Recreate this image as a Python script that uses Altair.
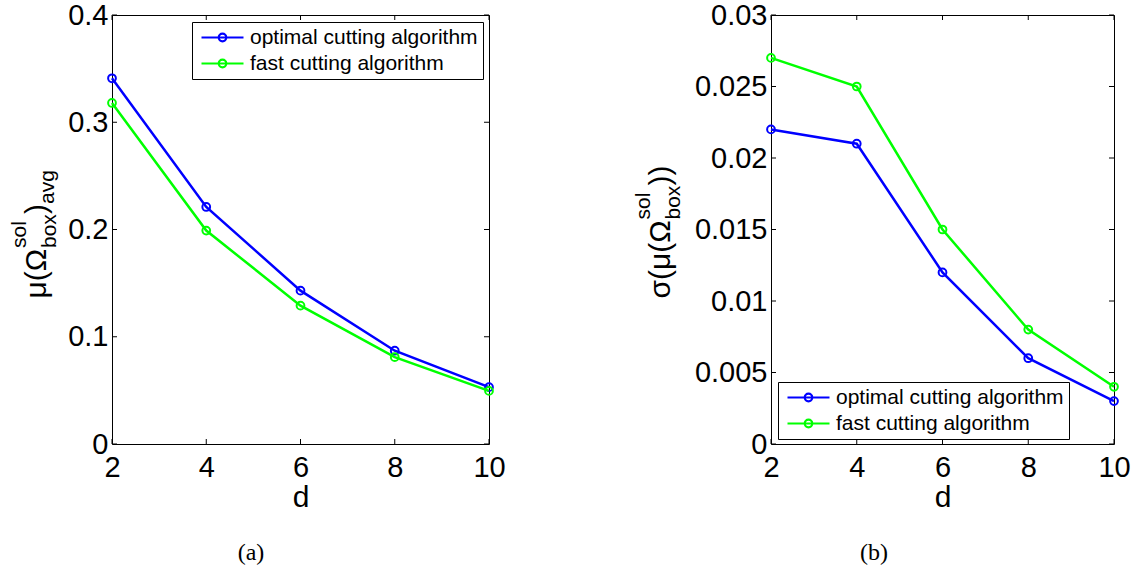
import altair as alt
import pandas as pd

# ---------------- data ----------------
d_values = [2, 4, 6, 8, 10]
series_names = ["optimal cutting algorithm", "fast cutting algorithm"]
series_colors = ["#0000ff", "#00ff00"]

mu_optimal = [0.341, 0.221, 0.143, 0.087, 0.053]
mu_fast = [0.318, 0.199, 0.129, 0.081, 0.0495]

sigma_optimal = [0.022, 0.021, 0.012, 0.006, 0.003]
sigma_fast = [0.027, 0.025, 0.015, 0.008, 0.004]

mu_ticks = [0, 0.1, 0.2, 0.3, 0.4]
sigma_ticks = [0, 0.005, 0.01, 0.015, 0.02, 0.025, 0.03]

FONT = "Liberation Sans"
SERIF = "Liberation Serif"
TICK_LEN = 5
H = 429

# legend symbol: a line with a small open circle in the middle.
# The circle is traced once in each direction so that its fill cancels out.
SYMBOL_PATH = ("M-1,0L1,0"
               "M0.18,0A0.18,0.18,0,1,1,-0.18,0A0.18,0.18,0,1,1,0.18,0Z"
               "M0.18,0A0.18,0.18,0,1,0,-0.18,0A0.18,0.18,0,1,0,0.18,0Z")


def make_panel(opt, fast, y_ticks, y_max, width, legend_xy, title_parts,
               caption, caption_x):
    n = len(d_values)
    df = pd.DataFrame({
        "d": d_values + d_values,
        "value": opt + fast,
        "series": [series_names[0]] * n + [series_names[1]] * n,
    })
    x_scale = alt.Scale(domain=[min(d_values), max(d_values)], nice=False, zero=False)
    y_scale = alt.Scale(domain=[0, y_max], nice=False, zero=True)
    x_axis = alt.Axis(values=d_values, title="d", format="d")
    y_axis = alt.Axis(values=y_ticks, format="~g", title=None)

    legend = alt.Legend(
        title=None, orient="none", legendX=legend_xy[0], legendY=legend_xy[1],
        symbolType=SYMBOL_PATH, symbolSize=1764, symbolStrokeWidth=2.2,
        symbolFillColor="white",
        symbolOffset=3, labelFont=FONT, labelFontSize=21, labelColor="black",
        labelOffset=5, labelLimit=500, padding=5, rowPadding=4,
        strokeColor="black", fillColor="white", clipHeight=21,
    )
    color = alt.Color("series:N",
                      scale=alt.Scale(domain=series_names, range=series_colors),
                      legend=legend)
    x_enc = alt.X("d:Q", scale=x_scale, axis=x_axis, title="d")
    y_enc = alt.Y("value:Q", scale=y_scale, axis=y_axis)

    layers = []
    for name in series_names:
        sub = alt.Chart(df).transform_filter(alt.datum.series == name)
        layers.append(sub.mark_line(strokeWidth=2.5).encode(
            x=x_enc, y=y_enc, color=color))
        layers.append(sub.mark_point(filled=False, size=60, strokeWidth=2,
                                     opacity=1).encode(
            x=x_enc, y=y_enc, color=color))

    # inward ticks on all four sides (MATLAB box style)
    xt = pd.DataFrame({"t": d_values})
    yt = pd.DataFrame({"t": y_ticks})
    xs = alt.X("t:Q", scale=x_scale, axis=x_axis, title="d")
    ys = alt.Y("t:Q", scale=y_scale, axis=y_axis)
    rule = dict(color="black", strokeWidth=1)
    layers += [
        alt.Chart(xt).mark_rule(**rule).encode(
            x=xs, y=alt.value(H), y2=alt.value(H - TICK_LEN)),
        alt.Chart(xt).mark_rule(**rule).encode(
            x=xs, y=alt.value(0), y2=alt.value(TICK_LEN)),
        alt.Chart(yt).mark_rule(**rule).encode(
            y=ys, x=alt.value(0), x2=alt.value(TICK_LEN)),
        alt.Chart(yt).mark_rule(**rule).encode(
            y=ys, x=alt.value(width), x2=alt.value(width - TICK_LEN)),
    ]

    # y-axis title with sub/superscripts, built from rotated text pieces
    for text, px, py, size in title_parts:
        layers.append(
            alt.Chart(pd.DataFrame({"t": [text]})).mark_text(
                angle=270, align="left", baseline="alphabetic", font=FONT,
                fontSize=size, color="black").encode(
                text="t:N", x=alt.value(px), y=alt.value(py)))

    # panel caption
    layers.append(
        alt.Chart(pd.DataFrame({"t": [caption]})).mark_text(
            font=SERIF, fontSize=24, align="center", baseline="alphabetic",
            color="black").encode(
            text="t:N", x=alt.value(caption_x), y=alt.value(545)))

    return alt.layer(*layers).properties(width=width, height=H)


left_title = [
    ("μ(Ω", -66, 283.5, 30),
    ("box", -56, 233, 21),
    ("sol", -86, 233, 21),
    (")", -66, 199, 30),
    ("avg", -58, 189, 21),
]
right_title = [
    ("σ(μ(Ω", -101, 283.5, 30),
    ("box", -91, 204.5, 21),
    ("sol", -121, 204.5, 21),
    ("))", -101, 170.5, 30),
]

left = make_panel(mu_optimal, mu_fast, mu_ticks, 0.4, 377, (80, 7),
                  left_title, "(a)", 139)
right = make_panel(sigma_optimal, sigma_fast, sigma_ticks, 0.03, 343, (7, 367),
                   right_title, "(b)", 103)

chart = alt.hconcat(left, right, spacing=282, bounds="flush").resolve_scale(
    color="independent", x="independent", y="independent"
).resolve_legend(
    color="independent"
).configure(
    padding={"left": 8, "top": 0, "right": 5, "bottom": 5},
    background="white",
).configure_view(
    stroke="black", strokeWidth=1,
).configure_axis(
    labelFont=FONT, labelFontSize=29, labelColor="black",
    titleFont=FONT, titleFontSize=30, titleColor="black", titleFontWeight="normal",
    ticks=False, tickSize=0, domain=False, grid=False,
    labelFlush=False, labelOverlap=False,
).configure_axisX(
    labelPadding=9, titleY=62, titleBaseline="alphabetic",
).configure_axisY(
    labelPadding=4,
)

chart.save("out.html", embed_options={"renderer": "svg", "actions": False})
